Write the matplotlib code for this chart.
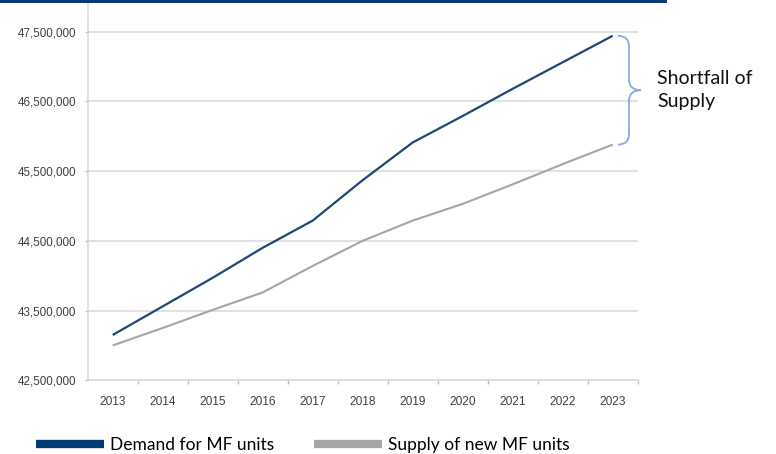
import numpy as np
import matplotlib.pyplot as plt
from matplotlib.path import Path
from matplotlib.patches import PathPatch, Rectangle
from matplotlib.lines import Line2D
from matplotlib.ticker import FuncFormatter, FixedLocator
import matplotlib.transforms as mtransforms

years = ['2013', '2014', '2015', '2016', '2017', '2018', '2019', '2020', '2021', '2022', '2023']
demand = [43150000, 43560000, 43970000, 44400000, 44790000, 45370000,
          45910000, 46290000, 46680000, 47060000, 47440000]
supply = [43000000, 43250000, 43510000, 43760000, 44140000, 44500000,
          44790000, 45030000, 45310000, 45600000, 45880000]
y_ticks = [42500000, 43500000, 44500000, 45500000, 46500000, 47500000]
series_names = ['Demand for MF units', 'Supply of new MF units']
note = 'Shortfall of\nSupply'

W, H = 776, 454
NAVY = '#1f4776'
NAVY_KEY = '#003c78'
GREY = '#a6a6a6'
GRID = '#d9d9d9'
TICK_TXT = '#404040'
BRACE = '#8eaadb'
tick_font = 'Liberation Sans'

fig = plt.figure(figsize=(W / 100, H / 100), dpi=100)
ax = fig.add_axes([87.7 / W, (H - 380.3) / H, (637.7 - 87.7) / W, (380.3 - 3) / H])

x = np.arange(len(years))
ax.plot(x, demand, color=NAVY, lw=1.6, solid_capstyle='butt', zorder=3)
ax.plot(x, supply, color=GREY, lw=1.5, solid_capstyle='butt', zorder=3)

ax.set_xlim(-0.5, len(years) - 0.5)
ax.set_ylim(42500000, 47910000)

# y axis
ax.set_yticks(y_ticks)
ax.yaxis.set_major_formatter(FuncFormatter(lambda v, p: f'{v:,.0f}'))
ax.grid(axis='y', color=GRID, lw=1.1)
ax.set_axisbelow(True)
ax.tick_params(axis='y', length=2.5, width=1, color='#bfbfbf', pad=6,
               labelsize=8.4, labelcolor=TICK_TXT)

# x axis: labels at categories, tick marks between them
ax.set_xticks(x)
ax.set_xticklabels(years)
ax.xaxis.set_minor_locator(FixedLocator(np.arange(0.5, len(years), 1)))
ax.tick_params(axis='x', which='major', length=0, pad=11, labelsize=8.6, labelcolor=TICK_TXT)
ax.tick_params(axis='x', which='minor', length=3, width=1, color='#bfbfbf')
for lab in ax.get_xticklabels() + ax.get_yticklabels():
    lab.set_family(tick_font)

for s in ['top', 'right']:
    ax.spines[s].set_visible(False)
for s in ['left', 'bottom']:
    ax.spines[s].set_color(GRID)
    ax.spines[s].set_linewidth(1.1)

# curly brace marking the gap in the last year
trans = mtransforms.blended_transform_factory(fig.transFigure, ax.transData)
top, bot = demand[-1], supply[-1]
mid = (top + bot) / 2
r = 150000
x0, x1, x2 = 618 / W, 629 / W, 641 / W
verts = [(x0, top), (x1, top), (x1, top - r),
         (x1, mid + r),
         (x1, mid), (x2, mid),
         (x1, mid), (x1, mid - r),
         (x1, bot + r),
         (x1, bot), (x0, bot)]
codes = [Path.MOVETO, Path.CURVE3, Path.CURVE3,
         Path.LINETO,
         Path.CURVE3, Path.CURVE3,
         Path.CURVE3, Path.CURVE3,
         Path.LINETO,
         Path.CURVE3, Path.CURVE3]
brace = PathPatch(Path(verts, codes), transform=trans, fill=False,
                  edgecolor=BRACE, lw=1.3, clip_on=False)
fig.add_artist(brace)
fig.text(657 / W, mid, note, transform=trans, ha='left', va='center',
         fontsize=14, family='Lato', color='#111111', linespacing=1.45)

# header rule
fig.add_artist(Rectangle((0, (H - 3) / H), 667 / W, 3 / H, transform=fig.transFigure,
                         color='#0b3a6e', lw=0))

handles = [Line2D([], [], color=NAVY_KEY, lw=6, solid_capstyle='butt'),
           Line2D([], [], color=GREY, lw=6, solid_capstyle='butt')]
fig.legend(handles, series_names, loc='center left', bbox_to_anchor=(36 / W, (H - 445) / H),
           ncol=2, frameon=False, handlelength=3.9, handletextpad=0.35,
           columnspacing=2.3, borderpad=0, borderaxespad=0,
           prop={'family': 'Lato', 'size': 12.5})

fig.savefig('out.png', dpi=100)
